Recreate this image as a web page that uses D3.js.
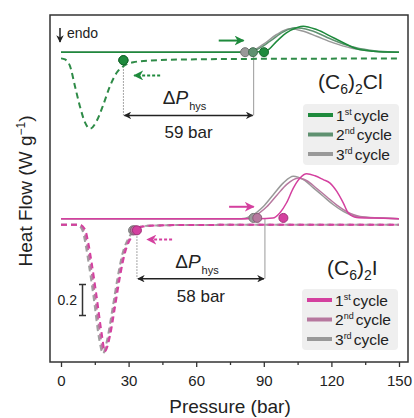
<!doctype html>
<html>
<head>
<meta charset="UTF-8">
<title>DSC pressure cycles</title>
<script src="https://cdn.jsdelivr.net/npm/d3@7"></script>
<style>
  body { margin: 0; background: #fff; }
  text { font-family: "Liberation Sans", Arial, sans-serif; fill: #222; }
</style>
</head>
<body>
<div id="chart"></div>
<script>
var width = 414, height = 418;

// heat flow in W/g, relative to each sample's own heating baseline
var cycles = ["1st", "2nd", "3rd"];
var cycleSup = ["st", "nd", "rd"];

var clHeat1 = [[0,0],[80,0],[88,0.003],[91.3,0.01],[95.7,0.07],[100,0.125],[104.6,0.158],[107.5,0.168],[113.4,0.146],[120.9,0.093],[125.3,0.061],[131.2,0.022],[138.5,0.006],[145,0.001],[150,0]];
var clHeat2 = [[0,0],[80,0],[86.8,0.017],[92.8,0.071],[98.7,0.131],[103.8,0.157],[110.5,0.142],[121,0.077],[128.3,0.039],[137,0.013],[145,0.002],[150,0]];
var clHeat3 = [[0,0],[78,0],[84,0.006],[89.7,0.05],[95.7,0.114],[101.6,0.151],[107.6,0.135],[113.4,0.103],[120.9,0.06],[128.3,0.028],[135.7,0.011],[145,0],[150,0]];
var clCool = [[0,-0.04],[1.8,-0.047],[4,-0.09],[6.2,-0.22],[8.4,-0.35],[10.7,-0.455],[12.9,-0.494],[15.8,-0.445],[18.8,-0.338],[21.7,-0.22],[24.7,-0.133],[27.7,-0.09],[32.1,-0.065],[39.5,-0.054],[60,-0.046],[90,-0.043],[150,-0.041]];

var iHeat1 = [[0,0],[88.3,0],[94,0.004],[97.2,0.039],[100.1,0.103],[103.1,0.198],[106.1,0.263],[109,0.29],[112.7,0.277],[116.4,0.252],[119.4,0.23],[122.4,0.176],[125.3,0.101],[127.5,0.037],[131.2,0.008],[138.6,0.004],[150,0]];
var iHeat2 = [[0,0],[81.5,0],[85.5,0.015],[91.3,0.077],[95.7,0.15],[100.2,0.222],[105.3,0.263],[109.1,0.245],[113.5,0.195],[117.9,0.142],[122.4,0.088],[126.8,0.046],[132.7,0.015],[144,0.003],[150,0]];
var iHeat3 = [[0,0],[80,0],[84,0.015],[89.8,0.079],[94.2,0.155],[98.7,0.231],[103.1,0.274],[107.6,0.252],[112,0.199],[116.4,0.145],[120.9,0.09],[125.3,0.047],[131.2,0.015],[143,0.004],[150,0]];
var iCool1 = [[0,-0.039],[8.4,-0.039],[10.7,-0.071],[12.1,-0.155],[13.6,-0.284],[15.8,-0.501],[18,-0.736],[19.5,-0.856],[21.7,-0.759],[24,-0.566],[26.2,-0.372],[28.4,-0.219],[31.4,-0.114],[34.3,-0.058],[39.5,-0.045],[60,-0.04],[150,-0.039]];
var iCool2 = [[0,-0.039],[7.8,-0.039],[10.1,-0.073],[11.5,-0.16],[13,-0.29],[15.2,-0.51],[17.4,-0.75],[19,-0.862],[21.1,-0.77],[23.4,-0.575],[25.6,-0.38],[27.8,-0.225],[30.8,-0.118],[33.7,-0.06],[39,-0.045],[60,-0.04],[150,-0.039]];
var iCool3 = [[0,-0.039],[7.2,-0.039],[9.5,-0.075],[10.9,-0.165],[12.4,-0.3],[14.6,-0.52],[16.8,-0.765],[18.6,-0.87],[20.5,-0.78],[22.8,-0.585],[25,-0.39],[27.2,-0.23],[30.2,-0.12],[33.1,-0.062],[38.5,-0.046],[60,-0.04],[150,-0.039]];

// onset points [pressure, heat flow]
var clOnHeat = [[90.1,0],[85.2,0],[81.7,0]];
var clOnCool = [27.7,-0.052];
var iOnHeat = [[98.7,0.005],[87.1,0.005],[85.4,0.005]];
var iOnCool = [[33.7,-0.075],[32.8,-0.075],[32,-0.075]];

var offsetCl = 0, offsetI = -1.075;
var xTicks = [0,15,30,45,60,75,90,105,120,135,150];
var hys = ["59 bar", "58 bar"];

var greens = ["#1e8a3c", "#5f9170", "#999999"];
var pinks = ["#d4409f", "#b7789f", "#999999"];

var margin = {left: 50, top: 15, right: 6, bottom: 56};
var x = d3.scaleLinear().domain([0,150]).range([61, 399]);
var y = d3.scaleLinear().domain([-2.0, 0.24]).range([362, 15]);

var svg = d3.select("#chart").append("svg")
    .attr("width", width).attr("height", height);

var defs = svg.append("defs");
function marker(id, col) {
    defs.append("marker").attr("id", id)
        .attr("viewBox", "0 0 10 10").attr("refX", 9).attr("refY", 5)
        .attr("markerWidth", 5).attr("markerHeight", 5)
        .attr("orient", "auto-start-reverse")
        .append("path").attr("d", "M0,0 L10,5 L0,10 L3,5 z").attr("fill", col);
}
marker("ak", "#222");
marker("ag", greens[0]);
marker("ap", pinks[0]);

// frame
svg.append("rect").attr("x", 50).attr("y", 15).attr("width", 358).attr("height", 347)
    .attr("fill", "none").attr("stroke", "#333").attr("stroke-width", 1.5);

// x axis
var xAxis = d3.axisBottom(x).tickValues(xTicks)
    .tickSize(5).tickFormat(function (d) { return d % 30 === 0 ? d : ""; });
var gx = svg.append("g").attr("transform", "translate(0,362)").call(xAxis);
gx.select(".domain").remove();
gx.selectAll(".tick line").attr("stroke", "#333").attr("stroke-width", 1.3)
    .attr("y2", function (d) { return d % 30 === 0 ? 5 : 3; });
gx.selectAll(".tick text").attr("font-size", 15).attr("dy", "1.05em")
    .attr("font-family", "Liberation Sans, Arial, sans-serif").attr("fill", "#222");

svg.append("text").attr("x", 230).attr("y", 413).attr("text-anchor", "middle")
    .attr("font-size", 19).text("Pressure (bar)");

var yl = svg.append("text").attr("transform", "translate(32,191) rotate(-90)")
    .attr("text-anchor", "middle").attr("font-size", 19);
yl.append("tspan").text("Heat Flow (W g");
yl.append("tspan").attr("dy", -7).attr("font-size", 12).text("\u22121");
yl.append("tspan").attr("dy", 7).text(")");

var line = d3.line().x(function (d) { return x(d[0]); }).curve(d3.curveMonotoneX);
function draw(data, off, col, dash, w) {
    svg.append("path").datum(data)
        .attr("d", line.y(function (d) { return y(d[1] + off); }))
        .attr("fill", "none").attr("stroke", col).attr("stroke-width", w)
        .attr("stroke-dasharray", dash);
}

// guide lines and hysteresis arrows
function hysArrow(p0, p1, vTop, vArrow, off, label) {
    svg.append("line").attr("x1", x(p0)).attr("x2", x(p0))
        .attr("y1", y(vTop + off) + 6).attr("y2", y(vArrow + off))
        .attr("stroke", "#888").attr("stroke-width", 1).attr("stroke-dasharray", "1.5,1.5");
    svg.append("line").attr("x1", x(p1)).attr("x2", x(p1))
        .attr("y1", y(0 + off)).attr("y2", y(vArrow + off))
        .attr("stroke", "#999").attr("stroke-width", 1);
    svg.append("line").attr("x1", x(p0) + 1).attr("x2", x(p1) - 1)
        .attr("y1", y(vArrow + off)).attr("y2", y(vArrow + off))
        .attr("stroke", "#222").attr("stroke-width", 1.5)
        .attr("marker-start", "url(#ak)").attr("marker-end", "url(#ak)");
    var cx = (x(p0) + x(p1)) / 2, ay = y(vArrow + off);
    var t = svg.append("text").attr("x", cx - 4).attr("y", ay - 11).attr("text-anchor", "middle")
        .attr("font-size", 19);
    t.append("tspan").text("\u0394");
    t.append("tspan").attr("font-style", "italic").text("P");
    t.append("tspan").attr("font-size", 11).attr("dy", 6).attr("dx", 1).text("hys");
    svg.append("text").attr("x", cx).attr("y", ay + 23).attr("text-anchor", "middle")
        .attr("font-size", 17).text(label);
}
hysArrow(clOnCool[0], 85.5, clOnCool[1], -0.408, offsetCl, hys[0]);
hysArrow(iOnCool[0][0], 90.5, iOnCool[0][1], -0.387, offsetI, hys[1]);

// curves
draw(clCool, offsetCl, "#2e8b47", "6,4", 2);
draw(clHeat3, offsetCl, greens[2], null, 1.5);
draw(clHeat2, offsetCl, greens[1], null, 1.5);
draw(clHeat1, offsetCl, greens[0], null, 1.5);

draw(iCool3, offsetI, "#a0a0a0", "6,4", 2);
draw(iCool2, offsetI, pinks[1], "6,4", 2);
draw(iCool1, offsetI, pinks[0], "6,4", 2);
draw(iHeat3, offsetI, pinks[2], null, 1.5);
draw(iHeat2, offsetI, pinks[1], null, 1.5);
draw(iHeat1, offsetI, pinks[0], null, 1.5);

// onset dots
function dots(pts, off, cols) {
    svg.selectAll(null).data(pts.slice().reverse()).enter().append("circle")
        .attr("cx", function (d) { return x(d[0]); })
        .attr("cy", function (d) { return y(d[1] + off); })
        .attr("r", 4.5)
        .attr("fill", function (d, i) { return cols[2 - i]; })
        .attr("stroke", function (d, i) { return d3.color(cols[2 - i]).darker(0.8); })
        .attr("stroke-width", 1);
}
dots(clOnHeat, offsetCl, greens);
dots([clOnCool, clOnCool, clOnCool], offsetCl, [greens[0], greens[0], greens[0]]);
dots(iOnHeat, offsetI, pinks);
dots(iOnCool, offsetI, pinks);

// direction arrows
function dirArrow(p0, p1, v, off, col, id, dash) {
    svg.append("line").attr("x1", x(p0)).attr("x2", x(p1))
        .attr("y1", y(v + off)).attr("y2", y(v + off))
        .attr("stroke", col).attr("stroke-width", 2)
        .attr("stroke-dasharray", dash).attr("marker-end", "url(#" + id + ")");
}
dirArrow(70, 81, 0.075, offsetCl, greens[0], "ag", null);
dirArrow(44, 32.5, -0.15, offsetCl, greens[0], "ag", "3,2");
dirArrow(74.6, 85.5, 0.077, offsetI, pinks[0], "ap", null);
dirArrow(49.3, 38.3, -0.135, offsetI, pinks[0], "ap", "3,2");

// endo marker
svg.append("line").attr("x1", 60).attr("x2", 60).attr("y1", 28).attr("y2", 42)
    .attr("stroke", "#222").attr("stroke-width", 1.5).attr("marker-end", "url(#ak)");
svg.append("text").attr("x", 67).attr("y", 38).attr("font-size", 14).text("endo");

// scale bar 0.2 W/g
var sb = [-1.7, -1.5];
svg.append("path")
    .attr("d", "M79," + y(sb[0]) + "H86M82.5," + y(sb[0]) + "V" + y(sb[1]) + "M79," + y(sb[1]) + "H86")
    .attr("stroke", "#333").attr("stroke-width", 1.5).attr("fill", "none");
svg.append("text").attr("x", 77).attr("y", y(-1.6) + 5).attr("text-anchor", "end")
    .attr("font-size", 14).text("0.2");

// compound labels
function compound(xp, yp, last) {
    var t = svg.append("text").attr("x", xp).attr("y", yp).attr("font-size", 21);
    t.append("tspan").text("(C");
    t.append("tspan").attr("font-size", 14).attr("dy", 5).text("6");
    t.append("tspan").attr("dy", -5).text(")");
    t.append("tspan").attr("font-size", 14).attr("dy", 5).text("2");
    t.append("tspan").attr("dy", -5).text(last);
}
compound(318, 89, "Cl");
compound(327, 275, "I");

// legends
function legend(x0, y0, cols) {
    var g = svg.append("g").attr("transform", "translate(" + x0 + "," + y0 + ")");
    g.append("rect").attr("width", 96).attr("height", 61).attr("rx", 4).attr("fill", "#efefef");
    cycles.forEach(function (c, i) {
        var yy = 11 + i * 19.5;
        g.append("line").attr("x1", 5).attr("x2", 30).attr("y1", yy).attr("y2", yy)
            .attr("stroke", cols[i]).attr("stroke-width", 4);
        var t = g.append("text").attr("x", 33).attr("y", yy + 5.5).attr("font-size", 15.5);
        t.append("tspan").text(c.charAt(0));
        t.append("tspan").attr("font-size", 9).attr("dy", -6).text(cycleSup[i]);
        t.append("tspan").attr("dy", 6).attr("dx", 2).text("cycle");
    });
}
legend(303, 104, greens);
legend(302, 289, pinks);
</script>
</body>
</html>
